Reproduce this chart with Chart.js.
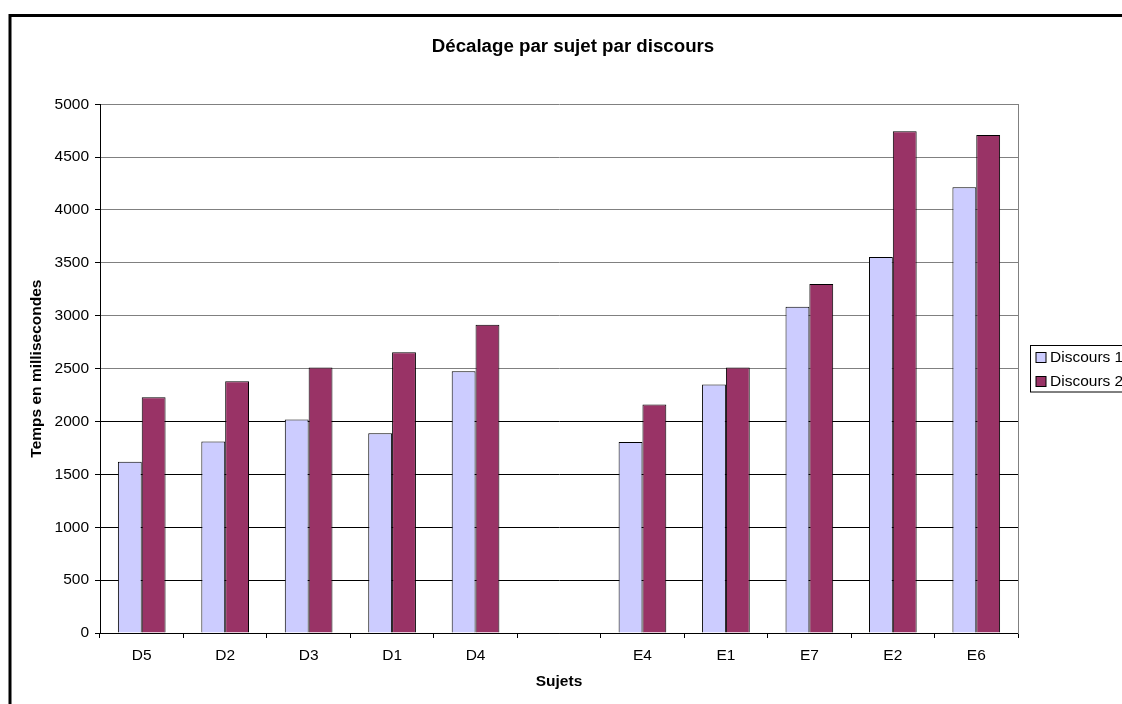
<!DOCTYPE html>
<html lang="fr">
<head>
<meta charset="utf-8">
<title>Décalage par sujet par discours</title>
<script src="https://cdn.jsdelivr.net/npm/chart.js@4/dist/chart.umd.min.js"></script>
<style>
  html, body { margin: 0; padding: 0; background: #fff; overflow: hidden; }
  #wrap { width: 1122px; height: 704px; overflow: hidden; }
  canvas { display: block; }
</style>
</head>
<body>
<div id="wrap"><canvas id="chart" width="1146" height="704"></canvas></div>
<script>
// Sujets (la colonne vide sépare le groupe D du groupe E)
const categories = ['D5', 'D2', 'D3', 'D1', 'D4', '', 'E4', 'E1', 'E7', 'E2', 'E6'];

// Décalage en millisecondes
const discours1 = [1620, 1810, 2020, 1890, 2475, null, 1805, 2350, 3085, 3555, 4215];
const discours2 = [2230, 2380, 2510, 2655, 2915, null, 2160, 2510, 3300, 4745, 4710];

const seriesNames = ['Discours 1', 'Discours 2'];
const seriesColors = ['#CCCCFF', '#993366'];

const chartTitle = 'Décalage par sujet par discours';
const xTitle = 'Sujets';
const yTitle = 'Temps en millisecondes';
const yMin = 0, yMax = 5000, yStep = 500;

const FONT = "'Liberation Sans', Arial, Helvetica, sans-serif";
Chart.defaults.font.family = FONT;
Chart.defaults.color = '#000';

// Frame around the whole chart and a white background
const framePlugin = {
  id: 'frame',
  beforeDraw(chart) {
    const ctx = chart.ctx;
    ctx.save();
    ctx.fillStyle = '#fff';
    ctx.fillRect(0, 0, chart.width, chart.height);
    ctx.strokeStyle = '#000';
    ctx.lineWidth = 3;
    ctx.strokeRect(10, 15.5, chart.width + 40, chart.height + 40);
    ctx.restore();
  }
};

// Boxed legend to the right of the plot area
const boxLegendPlugin = {
  id: 'boxLegend',
  afterDraw(chart) {
    const ctx = chart.ctx;
    const area = chart.chartArea;
    const sets = chart.data.datasets;
    const fontSize = 15.5;
    const rowH = 23.5;
    const sw = 10;
    ctx.save();
    ctx.font = fontSize + 'px ' + FONT;
    let maxW = 0;
    sets.forEach(d => { maxW = Math.max(maxW, ctx.measureText(d.label).width); });
    const left = Math.round(area.right + 12) + 0.5;
    const h = rowH * sets.length - 0.5;
    const top = Math.round((area.top + area.bottom) / 2 - h / 2) + 0.5;
    const w = 5.5 + sw + 4 + maxW + 8;
    ctx.strokeStyle = '#000';
    ctx.lineWidth = 1;
    ctx.strokeRect(left, top, w, h);
    ctx.textBaseline = 'middle';
    ctx.textAlign = 'left';
    sets.forEach((d, i) => {
      const cy = top + 11.5 + i * rowH;
      const bx = left + 5.5;
      const by = Math.round(cy - sw / 2) + 0.5;
      ctx.fillStyle = d.backgroundColor;
      ctx.fillRect(bx, by, sw, sw);
      ctx.strokeRect(bx, by, sw, sw);
      ctx.fillStyle = '#000';
      ctx.fillText(d.label, bx + sw + 4, cy + 1);
    });
    ctx.restore();
  }
};

new Chart(document.getElementById('chart'), {
  type: 'bar',
  data: {
    labels: categories,
    datasets: [
      { label: seriesNames[0], data: discours1, backgroundColor: seriesColors[0],
        borderColor: '#000', borderWidth: 1, borderSkipped: 'start' },
      { label: seriesNames[1], data: discours2, backgroundColor: seriesColors[1],
        borderColor: '#000', borderWidth: 1, borderSkipped: 'start' }
    ]
  },
  options: {
    responsive: false,
    animation: false,
    events: [],
    layout: { padding: 0 },
    datasets: { bar: { categoryPercentage: 0.5714, barPercentage: 1.0 } },
    plugins: {
      legend: { display: false },
      tooltip: { enabled: false },
      title: {
        display: true,
        text: chartTitle,
        color: '#000',
        font: { size: 18.7, weight: 'bold', family: FONT },
        padding: { top: 36, bottom: 45.8 }
      }
    },
    scales: {
      x: {
        offset: true,
        grid: { offset: true, drawOnChartArea: false, drawTicks: true, tickLength: 5,
                color: '#000', tickColor: '#000' },
        border: { display: true, color: '#000', width: 1 },
        ticks: { font: { size: 15.5 }, color: '#000', padding: 8.5, maxRotation: 0, autoSkip: false },
        title: { display: true, text: xTitle, color: '#000',
                 font: { size: 15.5, weight: 'bold' }, padding: { top: 4, bottom: 12.7 } },
        afterFit(scale) { scale.height = 71; }
      },
      y: {
        min: yMin,
        max: yMax,
        ticks: { stepSize: yStep, font: { size: 15.5 }, color: '#000', padding: 6,
                 callback: (value) => String(value) },
        grid: {
          drawTicks: true,
          tickLength: 5,
          tickColor: '#000',
          // lower gridlines are drawn darker than the upper ones
          color: (ctx) => (ctx.tick && ctx.tick.value <= 2000) ? '#000' : '#808080',
          lineWidth: 1
        },
        border: { display: true, color: '#000', width: 1 },
        title: { display: true, text: yTitle, color: '#000',
                 font: { size: 15.5, weight: 'bold' }, padding: { top: 27.7, bottom: 0 } },
        afterFit(scale) { scale.width = 100; }
      },
      // room on the right for the legend; its border closes the plot area
      legendRoom: {
        type: 'linear',
        position: 'right',
        display: true,
        grid: { display: false, drawTicks: false },
        ticks: { display: false },
        border: { display: true, color: '#808080', width: 1 },
        afterFit(scale) { scale.width = 128; }
      }
    }
  },
  plugins: [framePlugin, boxLegendPlugin]
});
</script>
</body>
</html>
